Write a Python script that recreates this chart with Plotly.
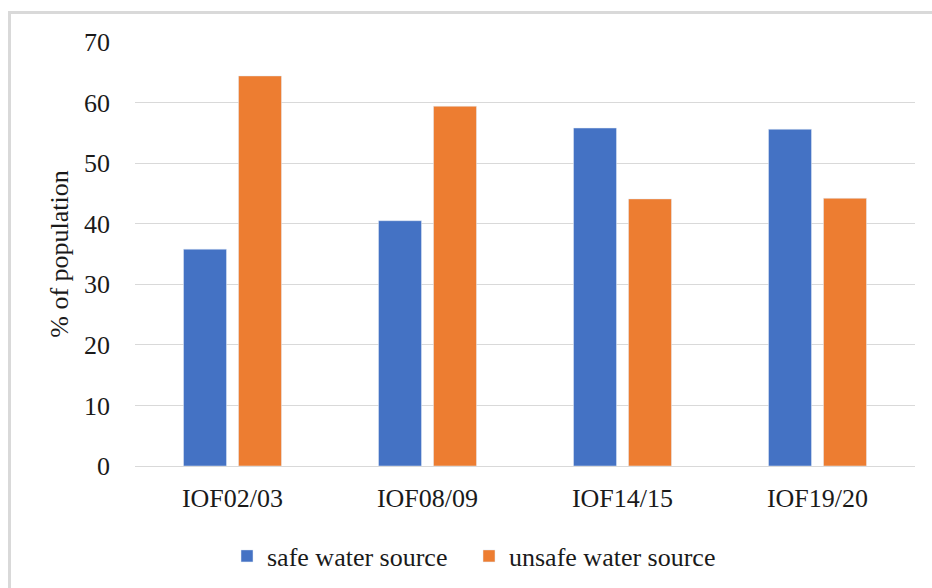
import plotly.graph_objects as go

categories = ["IOF02/03", "IOF08/09", "IOF14/15", "IOF19/20"]
safe = [35.8, 40.5, 55.8, 55.6]
unsafe = [64.4, 59.4, 44.1, 44.2]
series_names = ["safe water source", "unsafe water source"]
y_ticks = [0, 10, 20, 30, 40, 50, 60, 70]

BLUE = "#4472C4"
ORANGE = "#ED7D31"
FONT = "Liberation Serif"

W, H = 932, 588
L, R, T, B = 135, 17, 42, 122
pw, ph = W - L - R, H - T - B

fig = go.Figure()
fig.add_trace(go.Bar(x=categories, y=safe, name=series_names[0], marker_color=BLUE, legend="legend"))
fig.add_trace(go.Bar(x=categories, y=unsafe, name=series_names[1], marker_color=ORANGE, legend="legend2"))

def px_x(x):
    return (x - L) / pw

def px_y(y):
    return 1 - (y - T) / ph

legend_common = dict(orientation="h", xanchor="left", y=px_y(556), yanchor="middle",
                     font=dict(family=FONT, size=26, color="#1a1a1a"),
                     bgcolor="rgba(0,0,0,0)", itemwidth=30)

fig.update_layout(
    width=W, height=H,
    margin=dict(l=L, r=R, t=T, b=B, autoexpand=False),
    paper_bgcolor="white", plot_bgcolor="white",
    font=dict(family=FONT, size=26, color="#1a1a1a"),
    barmode="group", bargap=0.436, bargroupgap=0.218,
    showlegend=True,
    legend=dict(x=px_x(227), **legend_common),
    legend2=dict(x=px_x(469), **legend_common),
    xaxis=dict(showgrid=False, showline=False, ticks="", ticklabelstandoff=14,
               tickfont=dict(family=FONT, size=26, color="#1a1a1a"), automargin=False),
    yaxis=dict(range=[0, 70], tickvals=y_ticks, showgrid=True, gridcolor="#d9d9d9", gridwidth=1,
               zeroline=True, zerolinecolor="#d9d9d9", zerolinewidth=1, showline=False,
               ticks="", ticklabelstandoff=24, automargin=False,
               tickfont=dict(family=FONT, size=26, color="#1a1a1a"),
               title=dict(text="% of population", standoff=7,
                          font=dict(family=FONT, size=26, color="#1a1a1a"))),
    shapes=[
        dict(type="line", xref="paper", yref="paper", x0=px_x(9.5), x1=px_x(9.5),
             y0=px_y(11), y1=px_y(600), line=dict(color="#d9d9d9", width=3), layer="below"),
        dict(type="line", xref="paper", yref="paper", x0=px_x(8), x1=px_x(940),
             y0=px_y(12.5), y1=px_y(12.5), line=dict(color="#d9d9d9", width=3), layer="below"),
    ],
)

fig.write_html("out.html", config={"displayModeBar": False},
               post_script="document.body.style.margin='0';document.body.style.overflow='hidden';")
